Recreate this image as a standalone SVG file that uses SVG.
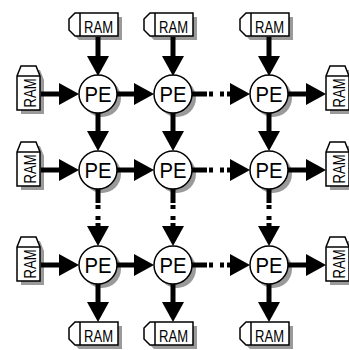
<svg xmlns="http://www.w3.org/2000/svg" xmlns:xlink="http://www.w3.org/1999/xlink" width="349" height="350" viewBox="0 0 349 350">
  <style>
    .shadow { fill: #9a9a9a; stroke: none; }
    .shape { fill: #ffffff; stroke: #000000; stroke-width: 1.5; stroke-linejoin: miter; }
    .label { font-family: "Liberation Sans Narrow", "Liberation Sans", Arial, sans-serif; fill: #000000; text-anchor: middle; }
    .pe { font-size: 22px; }
    .ram { font-size: 17px; }
    .wire { fill: none; stroke: #000000; stroke-width: 5; stroke-linecap: butt; }
  </style>
  <defs>
    <marker id="head" viewBox="0 0 20 22" refX="10" refY="11" markerWidth="20" markerHeight="22" markerUnits="userSpaceOnUse" orient="auto">
      <path d="M0,0 L20,11 L0,22 Z" fill="#000000"/>
    </marker>
    <!-- memory block lying flat, tab on the left; origin = top-left of body -->
    <path id="ramH" d="M0,0 H38 V23 H0 Z M0,0 H-5 L-11,6 V17 L-5,23 H0"/>
    <path id="ramHOutline" d="M-5,0 H38 V23 H-5 L-11,17 V6 Z"/>
    <!-- memory block standing, tab on top; origin = top-left of body -->
    <path id="ramVOutline" d="M0,0 L4,-10 H19 L23,0 V34 H0 Z"/>
    <circle id="peDisc" r="19"/>
  </defs>

  <!-- memories feeding the columns from above -->
  <g id="ram-top-1" transform="translate(80,13)">
    <use xlink:href="#ramHOutline" class="shadow" x="4" y="4"/>
    <use xlink:href="#ramHOutline" class="shape"/>
    <line x1="0" y1="0" x2="0" y2="23" stroke="#000" stroke-width="1.5"/>
    <text class="label ram" x="18.5" y="19.5" textLength="29" lengthAdjust="spacingAndGlyphs">RAM</text>
  </g>
  <g id="ram-top-2" transform="translate(155,13)">
    <use xlink:href="#ramHOutline" class="shadow" x="4" y="4"/>
    <use xlink:href="#ramHOutline" class="shape"/>
    <line x1="0" y1="0" x2="0" y2="23" stroke="#000" stroke-width="1.5"/>
    <text class="label ram" x="18.5" y="19.5" textLength="29" lengthAdjust="spacingAndGlyphs">RAM</text>
  </g>
  <g id="ram-top-3" transform="translate(251,13)">
    <use xlink:href="#ramHOutline" class="shadow" x="4" y="4"/>
    <use xlink:href="#ramHOutline" class="shape"/>
    <line x1="0" y1="0" x2="0" y2="23" stroke="#000" stroke-width="1.5"/>
    <text class="label ram" x="18.5" y="19.5" textLength="29" lengthAdjust="spacingAndGlyphs">RAM</text>
  </g>

  <!-- memories collecting below the columns -->
  <g id="ram-bottom-1" transform="translate(80,322)">
    <use xlink:href="#ramHOutline" class="shadow" x="4" y="4"/>
    <use xlink:href="#ramHOutline" class="shape"/>
    <line x1="0" y1="0" x2="0" y2="23" stroke="#000" stroke-width="1.5"/>
    <text class="label ram" x="18.5" y="19.5" textLength="29" lengthAdjust="spacingAndGlyphs">RAM</text>
  </g>
  <g id="ram-bottom-2" transform="translate(155,322)">
    <use xlink:href="#ramHOutline" class="shadow" x="4" y="4"/>
    <use xlink:href="#ramHOutline" class="shape"/>
    <line x1="0" y1="0" x2="0" y2="23" stroke="#000" stroke-width="1.5"/>
    <text class="label ram" x="18.5" y="19.5" textLength="29" lengthAdjust="spacingAndGlyphs">RAM</text>
  </g>
  <g id="ram-bottom-3" transform="translate(251,322)">
    <use xlink:href="#ramHOutline" class="shadow" x="4" y="4"/>
    <use xlink:href="#ramHOutline" class="shape"/>
    <line x1="0" y1="0" x2="0" y2="23" stroke="#000" stroke-width="1.5"/>
    <text class="label ram" x="18.5" y="19.5" textLength="29" lengthAdjust="spacingAndGlyphs">RAM</text>
  </g>

  <!-- memories feeding the rows from the left -->
  <g id="ram-left-1" transform="translate(17,76)">
    <use xlink:href="#ramVOutline" class="shadow" x="4" y="4"/>
    <use xlink:href="#ramVOutline" class="shape"/>
    <line x1="0" y1="0" x2="23" y2="0" stroke="#000" stroke-width="1.5"/>
    <text class="label ram" transform="translate(18.5,17) rotate(-90)" x="0" y="0" textLength="29" lengthAdjust="spacingAndGlyphs">RAM</text>
  </g>
  <g id="ram-left-2" transform="translate(17,152)">
    <use xlink:href="#ramVOutline" class="shadow" x="4" y="4"/>
    <use xlink:href="#ramVOutline" class="shape"/>
    <line x1="0" y1="0" x2="23" y2="0" stroke="#000" stroke-width="1.5"/>
    <text class="label ram" transform="translate(18.5,17) rotate(-90)" x="0" y="0" textLength="29" lengthAdjust="spacingAndGlyphs">RAM</text>
  </g>
  <g id="ram-left-3" transform="translate(17,247)">
    <use xlink:href="#ramVOutline" class="shadow" x="4" y="4"/>
    <use xlink:href="#ramVOutline" class="shape"/>
    <line x1="0" y1="0" x2="23" y2="0" stroke="#000" stroke-width="1.5"/>
    <text class="label ram" transform="translate(18.5,17) rotate(-90)" x="0" y="0" textLength="29" lengthAdjust="spacingAndGlyphs">RAM</text>
  </g>

  <!-- memories collecting on the right -->
  <g id="ram-right-1" transform="translate(326,76)">
    <use xlink:href="#ramVOutline" class="shadow" x="4" y="4"/>
    <use xlink:href="#ramVOutline" class="shape"/>
    <line x1="0" y1="0" x2="23" y2="0" stroke="#000" stroke-width="1.5"/>
    <text class="label ram" transform="translate(18.5,17) rotate(-90)" x="0" y="0" textLength="29" lengthAdjust="spacingAndGlyphs">RAM</text>
  </g>
  <g id="ram-right-2" transform="translate(326,152)">
    <use xlink:href="#ramVOutline" class="shadow" x="4" y="4"/>
    <use xlink:href="#ramVOutline" class="shape"/>
    <line x1="0" y1="0" x2="23" y2="0" stroke="#000" stroke-width="1.5"/>
    <text class="label ram" transform="translate(18.5,17) rotate(-90)" x="0" y="0" textLength="29" lengthAdjust="spacingAndGlyphs">RAM</text>
  </g>
  <g id="ram-right-3" transform="translate(326,247)">
    <use xlink:href="#ramVOutline" class="shadow" x="4" y="4"/>
    <use xlink:href="#ramVOutline" class="shape"/>
    <line x1="0" y1="0" x2="23" y2="0" stroke="#000" stroke-width="1.5"/>
    <text class="label ram" transform="translate(18.5,17) rotate(-90)" x="0" y="0" textLength="29" lengthAdjust="spacingAndGlyphs">RAM</text>
  </g>

  <!-- processing elements: columns x = 98, 173, 269; rows y = 94, 170, 265 -->
  <g id="pe-1-1" transform="translate(98,94)">
    <use xlink:href="#peDisc" class="shadow" x="4" y="4"/>
    <use xlink:href="#peDisc" class="shape"/>
    <text class="label pe" y="8" textLength="27" lengthAdjust="spacingAndGlyphs">PE</text>
  </g>
  <g id="pe-1-2" transform="translate(173,94)">
    <use xlink:href="#peDisc" class="shadow" x="4" y="4"/>
    <use xlink:href="#peDisc" class="shape"/>
    <text class="label pe" y="8" textLength="27" lengthAdjust="spacingAndGlyphs">PE</text>
  </g>
  <g id="pe-1-3" transform="translate(269,94)">
    <use xlink:href="#peDisc" class="shadow" x="4" y="4"/>
    <use xlink:href="#peDisc" class="shape"/>
    <text class="label pe" y="8" textLength="27" lengthAdjust="spacingAndGlyphs">PE</text>
  </g>
  <g id="pe-2-1" transform="translate(98,170)">
    <use xlink:href="#peDisc" class="shadow" x="4" y="4"/>
    <use xlink:href="#peDisc" class="shape"/>
    <text class="label pe" y="8" textLength="27" lengthAdjust="spacingAndGlyphs">PE</text>
  </g>
  <g id="pe-2-2" transform="translate(173,170)">
    <use xlink:href="#peDisc" class="shadow" x="4" y="4"/>
    <use xlink:href="#peDisc" class="shape"/>
    <text class="label pe" y="8" textLength="27" lengthAdjust="spacingAndGlyphs">PE</text>
  </g>
  <g id="pe-2-3" transform="translate(269,170)">
    <use xlink:href="#peDisc" class="shadow" x="4" y="4"/>
    <use xlink:href="#peDisc" class="shape"/>
    <text class="label pe" y="8" textLength="27" lengthAdjust="spacingAndGlyphs">PE</text>
  </g>
  <g id="pe-3-1" transform="translate(98,265)">
    <use xlink:href="#peDisc" class="shadow" x="4" y="4"/>
    <use xlink:href="#peDisc" class="shape"/>
    <text class="label pe" y="8" textLength="27" lengthAdjust="spacingAndGlyphs">PE</text>
  </g>
  <g id="pe-3-2" transform="translate(173,265)">
    <use xlink:href="#peDisc" class="shadow" x="4" y="4"/>
    <use xlink:href="#peDisc" class="shape"/>
    <text class="label pe" y="8" textLength="27" lengthAdjust="spacingAndGlyphs">PE</text>
  </g>
  <g id="pe-3-3" transform="translate(269,265)">
    <use xlink:href="#peDisc" class="shadow" x="4" y="4"/>
    <use xlink:href="#peDisc" class="shape"/>
    <text class="label pe" y="8" textLength="27" lengthAdjust="spacingAndGlyphs">PE</text>
  </g>

  <!-- data paths; each arrowhead tip lands 10px past its path end -->
  <g id="connectors">
    <!-- top memories into first row -->
    <path class="wire" marker-end="url(#head)" d="M98,37 V66"/>
    <path class="wire" marker-end="url(#head)" d="M173,37 V66"/>
    <path class="wire" marker-end="url(#head)" d="M269,37 V66"/>

    <!-- left memories into first column -->
    <path class="wire" marker-end="url(#head)" d="M41,94 H69"/>
    <path class="wire" marker-end="url(#head)" d="M41,170 H69"/>
    <path class="wire" marker-end="url(#head)" d="M41,265 H69"/>

    <!-- column 1 to column 2 -->
    <path class="wire" marker-end="url(#head)" d="M117,94 H144"/>
    <path class="wire" marker-end="url(#head)" d="M117,170 H144"/>
    <path class="wire" marker-end="url(#head)" d="M117,265 H144"/>

    <!-- column 2 to column 3, elided stages -->
    <path class="wire" d="M192,94 H207 M209,94 H213 M220,94 H224"/>
    <path class="wire" marker-end="url(#head)" d="M227,94 H240"/>
    <path class="wire" d="M192,170 H207 M209,170 H213 M220,170 H224"/>
    <path class="wire" marker-end="url(#head)" d="M227,170 H240"/>
    <path class="wire" d="M192,265 H207 M209,265 H213 M220,265 H224"/>
    <path class="wire" marker-end="url(#head)" d="M227,265 H240"/>

    <!-- last column out to right memories -->
    <path class="wire" marker-end="url(#head)" d="M288,94 H316"/>
    <path class="wire" marker-end="url(#head)" d="M288,170 H316"/>
    <path class="wire" marker-end="url(#head)" d="M288,265 H316"/>

    <!-- row 1 to row 2 -->
    <path class="wire" marker-end="url(#head)" d="M98,113 V141"/>
    <path class="wire" marker-end="url(#head)" d="M173,113 V141"/>
    <path class="wire" marker-end="url(#head)" d="M269,113 V141"/>

    <!-- row 2 to row 3, elided stages -->
    <path class="wire" d="M98,189 V203 M98,205 V209 M98,216 V220"/>
    <path class="wire" marker-end="url(#head)" d="M98,223 V236"/>
    <path class="wire" d="M173,189 V203 M173,205 V209 M173,216 V220"/>
    <path class="wire" marker-end="url(#head)" d="M173,223 V236"/>
    <path class="wire" d="M269,189 V203 M269,205 V209 M269,216 V220"/>
    <path class="wire" marker-end="url(#head)" d="M269,223 V236"/>

    <!-- last row out to bottom memories -->
    <path class="wire" marker-end="url(#head)" d="M98,284 V312"/>
    <path class="wire" marker-end="url(#head)" d="M173,284 V312"/>
    <path class="wire" marker-end="url(#head)" d="M269,284 V312"/>
  </g>
</svg>
